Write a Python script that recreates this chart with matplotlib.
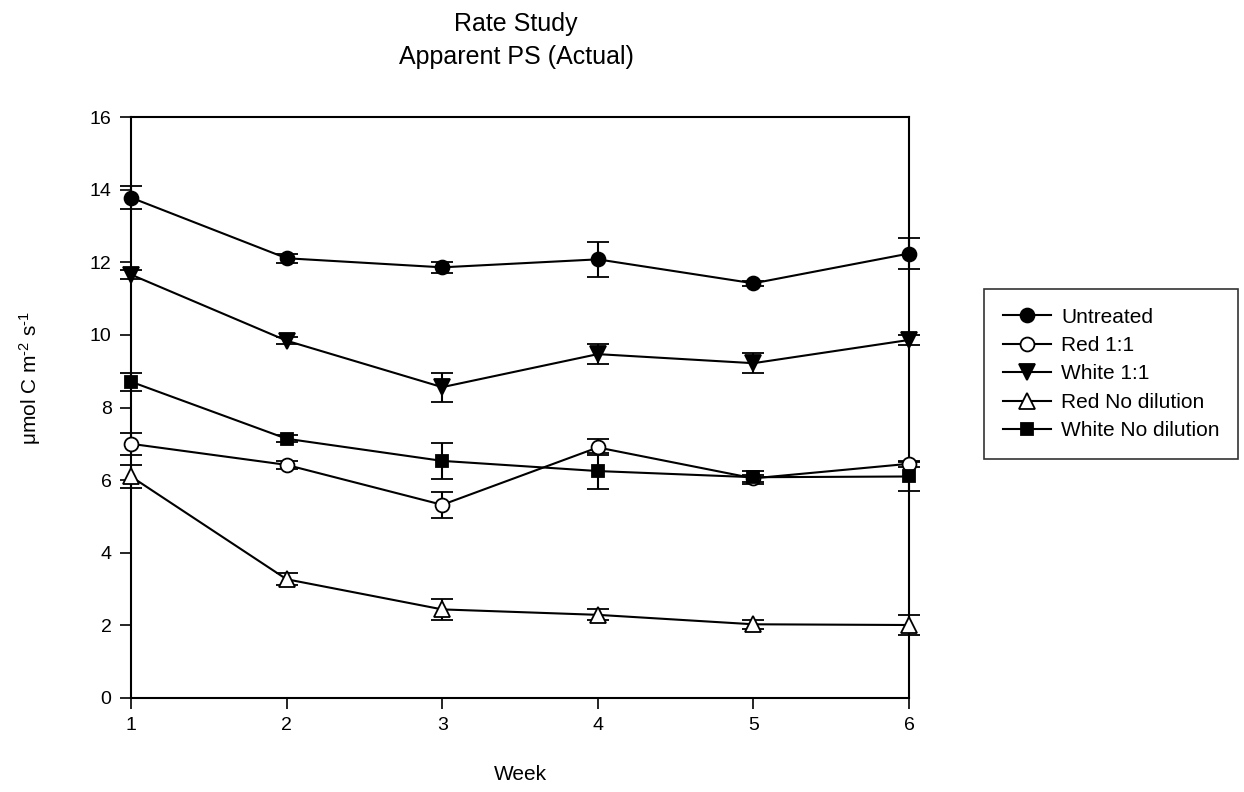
import matplotlib
matplotlib.use("Agg")
import matplotlib.pyplot as plt
import numpy as np

plt.rcParams['font.family'] = ['Liberation Sans', 'DejaVu Sans']
plt.rcParams['mathtext.fontset'] = 'custom'
plt.rcParams['mathtext.rm'] = 'Liberation Sans'
plt.rcParams['mathtext.it'] = 'Liberation Sans'

weeks = [1, 2, 3, 4, 5, 6]

untreated = [13.78, 12.11, 11.86, 12.08, 11.42, 12.24]
untreated_err = [0.32, 0.12, 0.16, 0.48, 0.07, 0.42]

red_11 = [7.00, 6.42, 5.32, 6.90, 6.05, 6.45]
red_11_err = [0.30, 0.12, 0.35, 0.22, 0.10, 0.08]

white_11 = [11.66, 9.84, 8.56, 9.47, 9.22, 9.86]
white_11_err = [0.12, 0.10, 0.40, 0.28, 0.27, 0.14]

red_nd = [6.10, 3.27, 2.44, 2.29, 2.03, 2.01]
red_nd_err = [0.33, 0.17, 0.30, 0.15, 0.12, 0.27]

white_nd = [8.71, 7.14, 6.53, 6.25, 6.08, 6.10]
white_nd_err = [0.25, 0.10, 0.50, 0.50, 0.18, 0.40]

labels = ["Untreated", "Red 1:1", "White 1:1", "Red No dilution", "White No dilution"]

W, H = 1244, 792
fig = plt.figure(figsize=(W / 100, H / 100), dpi=100)
ax = fig.add_axes([131 / W, 1 - 698 / H, (909 - 131) / W, (698 - 117) / H])

series = [
    (untreated, untreated_err, 'o', 'black', 10),
    (red_11, red_11_err, 'o', 'white', 10),
    (white_11, white_11_err, 'v', 'black', 11),
    (red_nd, red_nd_err, '^', 'white', 11),
    (white_nd, white_nd_err, 's', 'black', 9),
]

handles = []
for (vals, errs, mk, fc, ms), lab in zip(series, labels):
    eb = ax.errorbar(weeks, vals, yerr=errs, color='black', lw=1.5,
                     marker=mk, markersize=ms, markerfacecolor=fc,
                     markeredgecolor='black', markeredgewidth=1.3,
                     capsize=8, capthick=1.5, elinewidth=1.5, label=lab,
                     clip_on=False, zorder=3)
    handles.append(eb)

ax.set_xlim(1, 6)
ax.set_ylim(0, 16)
ax.set_xticks(weeks)
ax.set_yticks(np.arange(0, 17, 2))
ax.tick_params(axis='both', direction='out', length=8, width=1.2, labelsize=14,
               top=False, right=False, pad=6)
for s in ax.spines.values():
    s.set_linewidth(1.5)

fig.text(520 / W, 1 - 775 / H, "Week", ha='center', va='center', fontsize=15)
fig.text(30 / W, 1 - 378 / H, r"$\mu$mol C m$^{\text{-2}}$ s$^{\text{-1}}$", rotation=90,
         ha='center', va='center', fontsize=15)
fig.text(516 / W, 1 - 24 / H, "Rate Study", ha='center', va='center', fontsize=18)
fig.text(516 / W, 1 - 57 / H, "Apparent PS (Actual)", ha='center', va='center', fontsize=18)

leg = fig.legend(handles=[h[0] for h in handles], labels=labels,
                 loc='upper left', bbox_to_anchor=(984 / W, 1 - 289 / H),
                 borderaxespad=0, fontsize=15, frameon=True, fancybox=False,
                 edgecolor='black', handlelength=2.3, labelspacing=0.45,
                 handletextpad=0.5, borderpad=0.9)
leg.get_frame().set_linewidth(1.2)

fig.savefig("out.png", dpi=100)
